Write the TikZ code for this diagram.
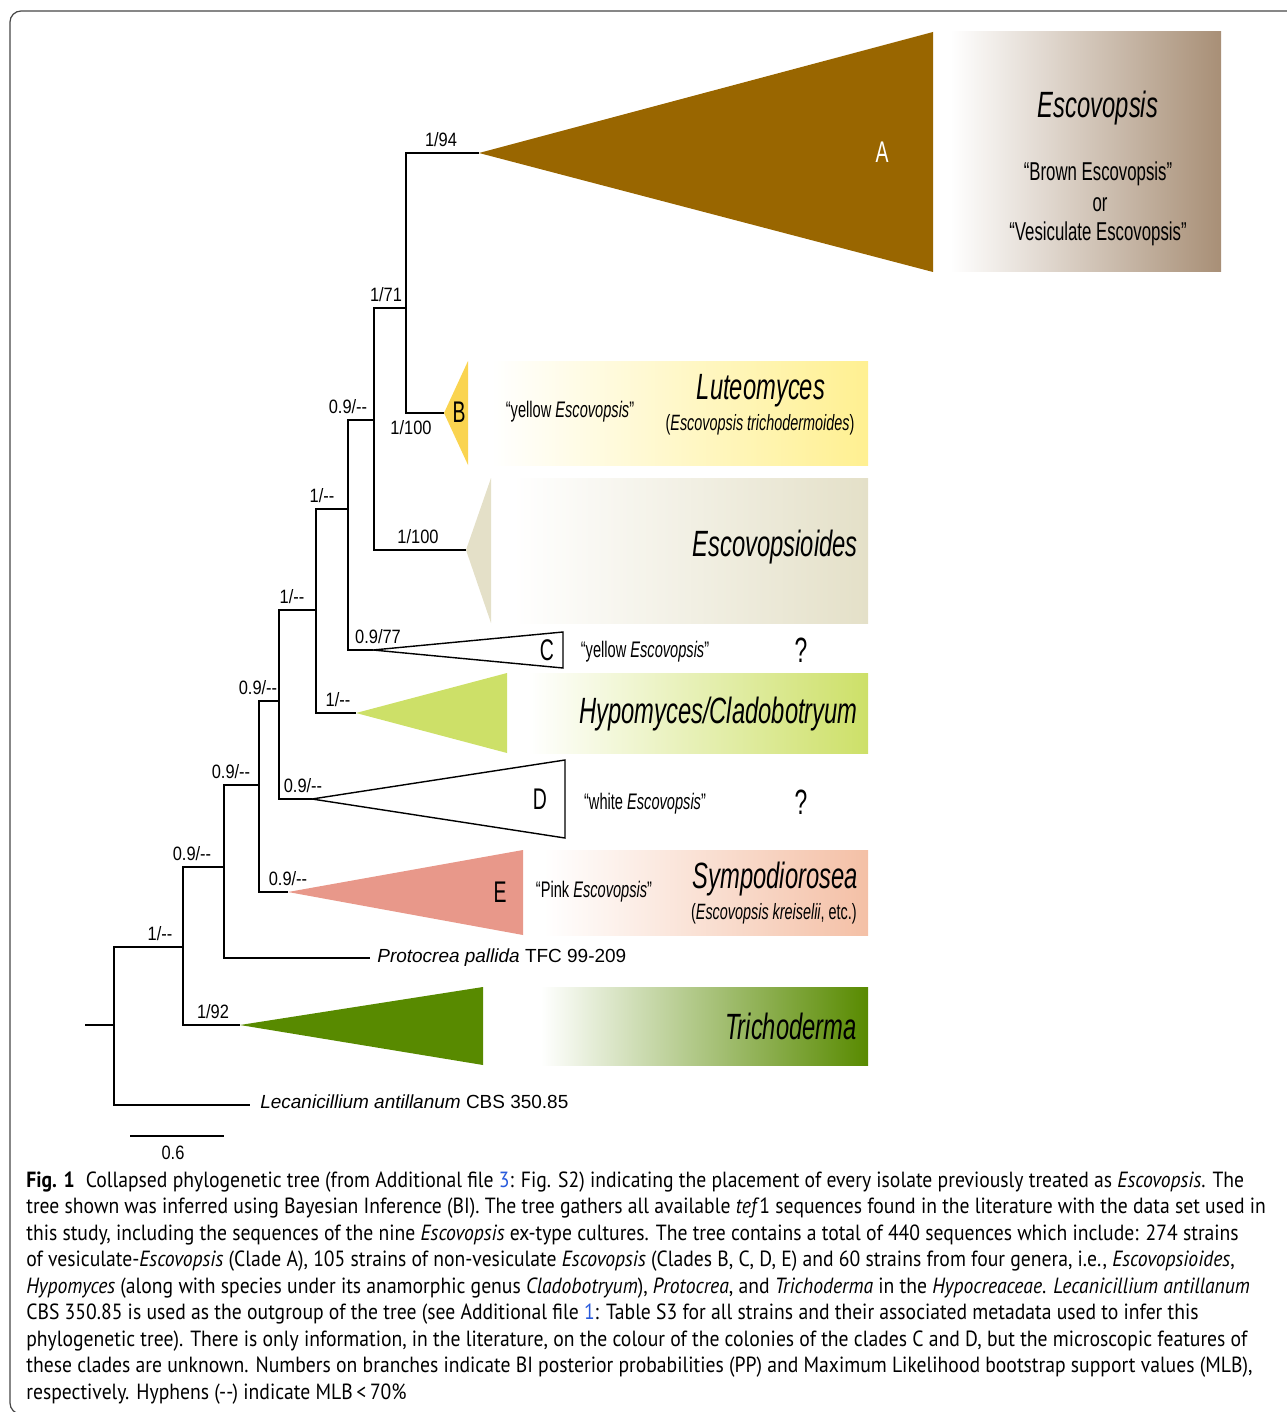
\documentclass[tikz,border=0pt]{standalone}
\usepackage{fontspec}
\setmainfont{Liberation Sans}
\newfontfamily\cladefont[FakeStretch=0.65]{Liberation Sans}
\newfontfamily\supfont[FakeStretch=0.85]{Liberation Sans}
\newfontfamily\capfont[FakeStretch=0.895]{PT Sans}
\definecolor{cA}{RGB}{153,102,0}
\definecolor{bA}{RGB}{168,143,118}
\definecolor{cB}{RGB}{250,212,80}
\definecolor{bB}{RGB}{255,240,145}
\definecolor{cS}{RGB}{228,224,200}
\definecolor{cH}{RGB}{205,224,104}
\definecolor{cE}{RGB}{232,152,138}
\definecolor{bE}{RGB}{244,192,166}
\definecolor{cT}{RGB}{88,138,0}
\definecolor{linkblue}{RGB}{40,90,220}
\definecolor{framegray}{RGB}{70,70,70}
\pgfdeclarehorizontalshading[boxcol]{boxfade}{100bp}{color(0bp)=(white); color(28bp)=(white); color(75bp)=(boxcol); color(100bp)=(boxcol)}
\tikzset{
  branch/.style={line width=0.8pt},
  sup/.style={font=\supfont\fontsize{11}{12}\selectfont, inner sep=1pt},
  tip/.style={font=\fontsize{10.8}{12}\selectfont, anchor=west, inner sep=0pt},
  genus/.style={font=\cladefont\itshape\fontsize{20.8}{24}\selectfont, inner sep=0pt},
  subgenus/.style={font=\cladefont\fontsize{12.6}{15}\selectfont, inner sep=0pt},
  quote/.style={font=\cladefont\fontsize{12.8}{15}\selectfont, inner sep=0pt},
  clade/.style={font=\cladefont\fontsize{17}{20}\selectfont, inner sep=0pt},
  fadebox/.code={\colorlet{boxcol}{#1}\tikzset{shading=boxfade}},
}
\begin{document}
\begin{tikzpicture}[x=0.02cm, y=-0.02cm]
\useasboundingbox (0,0) rectangle (1287,1412);
\draw[framegray, line width=0.7pt, rounded corners=0.22cm] (1300,11) -- (10,11) -- (10,1414) -- (1300,1414);

% shaded boxes behind the clade names
\shade[fadebox=bA] (933,32) rectangle (1221,272);
\shade[fadebox=bB] (468,361) rectangle (868,465);
\shade[fadebox=cS] (491,478) rectangle (868,623);
\shade[fadebox=cH] (507,673) rectangle (868,753);
\shade[fadebox=bE] (523,850) rectangle (868,935);
\shade[fadebox=cT] (520,987) rectangle (868,1065);

% internal nodes
\coordinate (s) at (85,1025);
\coordinate (r) at (114,1025);
\coordinate (n1) at (183,947);
\coordinate (n2) at (224,867);
\coordinate (n3) at (259,785);
\coordinate (n4) at (279,701);
\coordinate (n5) at (316,610);
\coordinate (n6) at (348,509);
\coordinate (n7) at (374,420);
\coordinate (n8) at (406,308);
% tips
\coordinate (tA) at (479,153);
\coordinate (tB) at (444,413);
\coordinate (tS) at (466,550);
\coordinate (tC) at (373,650);
\coordinate (tH) at (356,713);
\coordinate (tD) at (312,799);
\coordinate (tE) at (288,892);
\coordinate (tP) at (370,958);
\coordinate (tT) at (240,1025);
\coordinate (tL) at (250,1105);

% collapsed clades
\fill[cA] (tA) -- (933,32) -- (933,272) -- cycle;
\fill[cB] (tB) -- (468,361) -- (468,465) -- cycle;
\fill[cS] (tS) -- (491,478) -- (491,623) -- cycle;
\draw[branch, fill=white] (tC) -- (563,632) -- (563,668) -- cycle;
\fill[cH] (tH) -- (507,673) -- (507,753) -- cycle;
\draw[branch, fill=white] (tD) -- (565,760) -- (565,838) -- cycle;
\fill[cE] (tE) -- (523,850) -- (523,935) -- cycle;
\fill[cT] (tT) -- (483,987) -- (483,1065) -- cycle;

% branches
\draw[branch] (s) -- (r);
\draw[branch] (r) |- (n1);
\draw[branch] (r) |- (tL);
\draw[branch] (n1) |- (n2);
\draw[branch] (n1) |- (tT);
\draw[branch] (n2) |- (n3);
\draw[branch] (n2) |- (tP);
\draw[branch] (n3) |- (n4);
\draw[branch] (n3) |- (tE);
\draw[branch] (n4) |- (n5);
\draw[branch] (n4) |- (tD);
\draw[branch] (n5) |- (n6);
\draw[branch] (n5) |- (tH);
\draw[branch] (n6) |- (n7);
\draw[branch] (n6) |- (tC);
\draw[branch] (n7) |- (n8);
\draw[branch] (n7) |- (tS);
\draw[branch] (n8) |- (tA);
\draw[branch] (n8) |- (tB);

% support values
\node[sup, anchor=south] (p1) at (160,943) {1/--};
\node[sup, anchor=south] (p2) at (192,863) {0.9/--};
\node[sup, anchor=south] (pT) at (213,1021) {1/92};
\node[sup, anchor=south] (p3) at (231,781) {0.9/--};
\node[sup, anchor=south] (pE) at (288,888) {0.9/--};
\node[sup, anchor=south] (p4) at (258,697) {0.9/--};
\node[sup, anchor=south] (pD) at (303,795) {0.9/--};
\node[sup, anchor=south] (p5) at (292,606) {1/--};
\node[sup, anchor=south] (pH) at (338,709) {1/--};
\node[sup, anchor=south] (p6) at (322,505) {1/--};
\node[sup, anchor=south] (pC) at (378,646) {0.9/77};
\node[sup, anchor=south] (p7) at (348,416) {0.9/--};
\node[sup, anchor=south] (pS) at (418,546) {1/100};
\node[sup, anchor=south] (p8) at (386,304) {1/71};
\node[sup, anchor=south] (pA) at (441,149) {1/94};
\node[sup, anchor=north] (pB) at (411,418) {1/100};

% clade letters
\node[clade, white] (kA) at (882,152) {A};
\node[clade] (kB) at (459,412) {B};
\node[clade] (kC) at (547,650) {C};
\node[clade] (kD) at (540,799) {D};
\node[clade] (kE) at (500,892) {E};

% names
\node[genus] (gA) at (1098,108) {Escovopsis};
\node[quote, font=\cladefont\fontsize{14.7}{17}\selectfont] (qA1) at (1098,174) {“Brown Escovopsis”};
\node[quote, font=\cladefont\fontsize{14.7}{17}\selectfont] (qA2) at (1100,205) {or};
\node[quote, font=\cladefont\fontsize{14.7}{17}\selectfont] (qA3) at (1098,234) {“Vesiculate Escovopsis”};
\node[quote] (qB) at (570,412) {“yellow \textit{Escovopsis}”};
\node[genus] (gB) at (761,391) {Luteomyces};
\node[subgenus] (hB) at (760,425) {(\textit{Escovopsis trichodermoides})};
\node[genus, anchor=east] (gS) at (858,547) {Escovopsioides};
\node[quote] (qC) at (645,652) {“yellow \textit{Escovopsis}”};
\node[genus, font=\cladefont\fontsize{20}{24}\selectfont] (uC) at (801,650) {?};
\node[genus, anchor=east] (gH) at (858,714) {Hypomyces/Cladobotryum};
\node[quote] (qD) at (645,804) {“white \textit{Escovopsis}”};
\node[genus, font=\cladefont\fontsize{20}{24}\selectfont] (uD) at (801,802) {?};
\node[quote] (qE) at (594,892) {“Pink \textit{Escovopsis}”};
\node[genus, anchor=east] (gE) at (858,879) {Sympodiorosea};
\node[subgenus, anchor=east] (hE) at (857,914) {(\textit{Escovopsis kreiselii}, etc.)};
\node[genus, anchor=east] (gT) at (857,1026) {Trichoderma};
\node[tip] (lP) at (377,958) {\textit{Protocrea pallida} TFC 99-209};
\node[tip] (lL) at (260,1102) {\textit{Lecanicillium antillanum} CBS 350.85};

% scale bar
\coordinate (b1) at (130,1136);
\coordinate (b2) at (224,1136);
\draw[branch] (b1) -- (b2);
\node[font=\supfont\fontsize{11}{12}\selectfont] (b0) at (173,1153) {0.6};

% caption
\node[anchor=north west, inner sep=0pt, align=left, font=\capfont\fontsize{12.5}{15.1}\selectfont] (cap) at (26,1171) {%
\textbf{Fig. 1}\enspace Collapsed phylogenetic tree (from Additional file {\color{linkblue}3}: Fig. S2) indicating the placement of every isolate previously treated as \textit{Escovopsis}. The\\
tree shown was inferred using Bayesian Inference (BI). The tree gathers all available \textit{tef}1 sequences found in the literature with the data set used in\\
this study, including the sequences of the nine \textit{Escovopsis} ex-type cultures. The tree contains a total of 440 sequences which include: 274 strains\\
of vesiculate-\textit{Escovopsis} (Clade A), 105 strains of non-vesiculate \textit{Escovopsis} (Clades B, C, D, E) and 60 strains from four genera, i.e., \textit{Escovopsioides},\\
\textit{Hypomyces} (along with species under its anamorphic genus \textit{Cladobotryum}), \textit{Protocrea}, and \textit{Trichoderma} in the \textit{Hypocreaceae}. \textit{Lecanicillium antillanum}\\
CBS 350.85 is used as the outgroup of the tree (see Additional file {\color{linkblue}1}: Table S3 for all strains and their associated metadata used to infer this\\
phylogenetic tree). There is only information, in the literature, on the colour of the colonies of the clades C and D, but the microscopic features of\\
these clades are unknown. Numbers on branches indicate BI posterior probabilities (PP) and Maximum Likelihood bootstrap support values (MLB),\\
respectively. Hyphens (--) indicate MLB\,<\,70\%};
\end{tikzpicture}
\end{document}
